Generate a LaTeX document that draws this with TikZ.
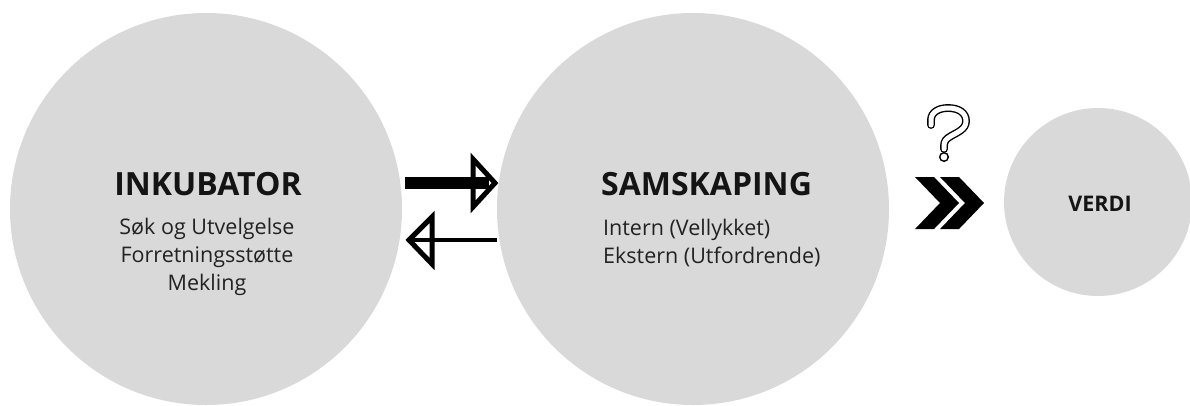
\documentclass[tikz,border=0pt]{standalone}
\usepackage{fontspec}
\setmainfont{Open Sans}
\usetikzlibrary{calc}
\definecolor{circ}{HTML}{D9D9D9}
\definecolor{inkc}{HTML}{141414}
\definecolor{bodyc}{HTML}{222222}
\begin{document}
\begin{tikzpicture}[x=1pt,y=-1pt,
  bubble/.style={circle, fill=circ, inner sep=0pt},
  bigtitle/.style={font=\fontsize{32}{38}\selectfont\bfseries, text=inkc, inner sep=0pt},
  smalltitle/.style={font=\fontsize{21.5}{26}\selectfont\bfseries, text=inkc, inner sep=0pt},
  bodytext/.style={font=\fontsize{21.5}{28}\selectfont, text=bodyc, inner sep=0pt},
  shaft/.style={draw=black, line cap=butt},
  opentri/.style={draw=black, line width=5pt, line join=miter},
  qmark/.style={draw=black, line width=1.4pt, double=white, double distance=5pt, line cap=round},
  chev/.style={fill=black}]
\useasboundingbox (0,0) rectangle (1190,405);

% circles
\node[bubble, minimum size=392pt] (inc) at (206,209) {};
\node[bubble, minimum size=392pt] (sam) at (693,209) {};
\node[bubble, minimum size=188pt] (ver) at (1098,202) {};

% texts
\node[bigtitle, anchor=base] (incT) at (208,195) {INKUBATOR};
\node[bodytext, anchor=base] (inc1) at (207,234) {Søk og Utvelgelse};
\node[bodytext, anchor=base] (inc2) at (207,262) {Forretningsstøtte};
\node[bodytext, anchor=base] (inc3) at (207,290) {Mekling};

\node[bigtitle, anchor=base west] (samT) at (601,195) {SAMSKAPING};
\node[bodytext, anchor=base west] (sam1) at (603,235) {Intern (Vellykket)};
\node[bodytext, anchor=base west] (sam2) at (603,263) {Ekstern (Utfordrende)};

\node[smalltitle, anchor=base] (verT) at (1100,211) {VERDI};

% arrow endpoints
\coordinate (u1) at (405,183);
\coordinate (u2) at (495,183);
\coordinate (l1) at (497,240);
\coordinate (l2) at (409,240);

% upper arrow (to the right), thick shaft
\draw[shaft, line width=12pt] (u1) -- ($(u2)+(-6,0)$);
\draw[opentri] ($(u2)+(-22,-24)$) -- (u2) -- ($(u2)+(-22,24)$) -- cycle;

% lower arrow (to the left), thin shaft
\draw[shaft, line width=4pt] (l1) -- ($(l2)+(3,0)$);
\draw[opentri] ($(l2)+(23,-23)$) -- (l2) -- ($(l2)+(23,24)$) -- cycle;

% question mark
\draw[qmark] (931,125) -- (931,120) .. controls (931,112) and (939,108) .. (948,108)
  .. controls (959,108) and (966,113) .. (966,121)
  .. controls (966,129) and (958,132) .. (951,136)
  .. controls (946,139) and (944,141) .. (944,146) -- (944,149);
\draw[draw=black, line width=1.4pt, fill=white] (944,157) circle[radius=4.3];

% double chevron
\fill[chev] (915,177) -- (934,177) -- (959,203) -- (934,229) -- (915,229) -- (940,203) -- cycle;
\fill[chev] (940,177) -- (959,177) -- (984,203) -- (959,229) -- (940,229) -- (965,203) -- cycle;
\end{tikzpicture}
\end{document}
